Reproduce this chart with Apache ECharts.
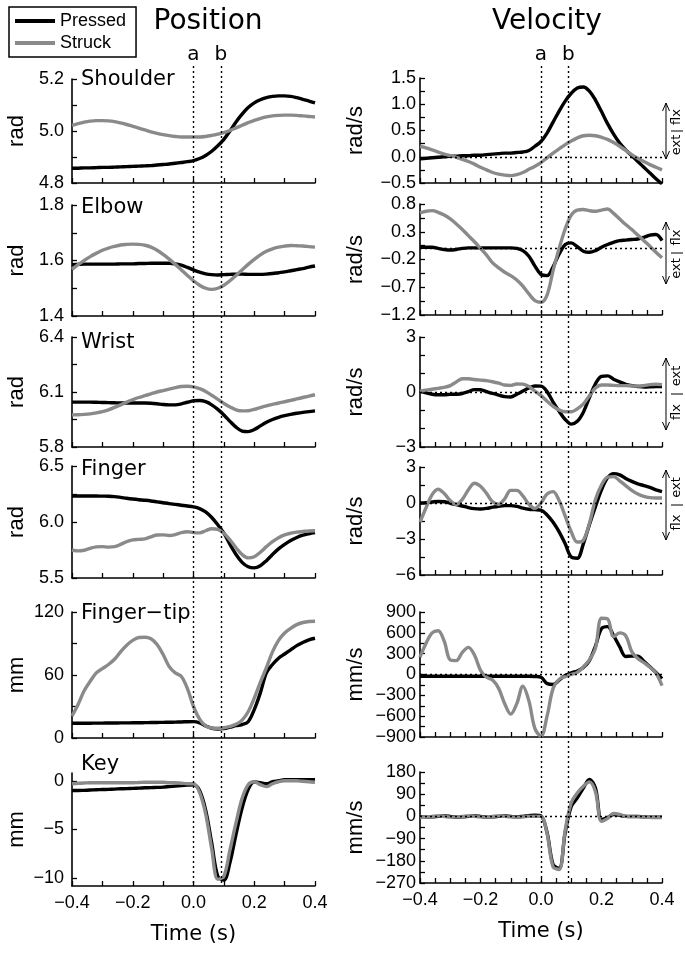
<!DOCTYPE html>
<html><head><meta charset="utf-8">
<script src="https://cdn.jsdelivr.net/npm/echarts@6/dist/echarts.min.js"></script>
<style>html,body{margin:0;padding:0;background:#fff}#c{width:685px;height:969px}</style>
</head><body><div id="c"></div>
<script>
// ---------- DATA ----------
const TIME = [-0.40,-0.38,-0.36,-0.34,-0.32,-0.30,-0.28,-0.26,-0.24,-0.22,-0.20,-0.18,-0.16,-0.14,-0.12,-0.10,-0.08,-0.06,-0.04,-0.02,0.00,0.02,0.04,0.06,0.08,0.10,0.12,0.14,0.16,0.18,0.20,0.22,0.24,0.26,0.28,0.30,0.32,0.34,0.36,0.38,0.40];

const POS_SHOULDER_PRESSED = [4.857,4.857,4.858,4.858,4.859,4.860,4.860,4.861,4.862,4.863,4.864,4.865,4.866,4.867,4.869,4.871,4.873,4.876,4.879,4.882,4.886,4.894,4.906,4.922,4.943,4.968,5.000,5.035,5.065,5.090,5.108,5.120,5.128,5.133,5.135,5.135,5.133,5.128,5.122,5.115,5.108];
const POS_SHOULDER_STRUCK  = [5.022,5.028,5.034,5.038,5.040,5.040,5.039,5.036,5.031,5.025,5.018,5.011,5.004,4.997,4.991,4.986,4.982,4.979,4.977,4.977,4.977,4.977,4.979,4.983,4.988,4.994,5.002,5.012,5.022,5.032,5.041,5.048,5.054,5.058,5.060,5.061,5.061,5.060,5.058,5.056,5.054];
const POS_ELBOW_PRESSED = [1.585,1.586,1.587,1.587,1.587,1.587,1.587,1.587,1.588,1.588,1.588,1.589,1.589,1.590,1.590,1.590,1.590,1.588,1.583,1.575,1.566,1.558,1.552,1.549,1.548,1.549,1.550,1.551,1.551,1.550,1.550,1.550,1.551,1.553,1.556,1.559,1.563,1.567,1.571,1.576,1.580];
const POS_ELBOW_STRUCK  = [1.568,1.585,1.600,1.614,1.626,1.637,1.645,1.651,1.656,1.658,1.659,1.658,1.655,1.648,1.637,1.622,1.605,1.586,1.566,1.546,1.527,1.511,1.500,1.496,1.500,1.511,1.527,1.546,1.566,1.586,1.604,1.620,1.633,1.642,1.648,1.652,1.654,1.653,1.652,1.650,1.648];
const POS_WRIST_PRESSED = [6.045,6.045,6.045,6.045,6.044,6.043,6.042,6.041,6.040,6.040,6.040,6.040,6.040,6.039,6.036,6.032,6.030,6.030,6.035,6.044,6.052,6.054,6.047,6.030,6.005,5.975,5.940,5.908,5.887,5.884,5.895,5.915,5.935,5.950,5.962,5.971,5.978,5.984,5.989,5.993,5.997];
const POS_WRIST_STRUCK  = [5.975,5.976,5.978,5.981,5.986,5.993,6.003,6.016,6.030,6.045,6.058,6.070,6.080,6.090,6.100,6.108,6.116,6.124,6.130,6.131,6.128,6.118,6.103,6.082,6.060,6.038,6.018,6.003,5.997,5.998,6.005,6.015,6.024,6.032,6.040,6.047,6.054,6.062,6.070,6.078,6.085];
const POS_FINGER_PRESSED = [6.232,6.232,6.232,6.232,6.232,6.231,6.230,6.227,6.220,6.212,6.205,6.199,6.194,6.188,6.180,6.172,6.164,6.157,6.150,6.143,6.135,6.120,6.090,6.040,5.975,5.900,5.800,5.710,5.640,5.600,5.590,5.610,5.655,5.710,5.760,5.800,5.835,5.862,5.882,5.895,5.905];
const POS_FINGER_STRUCK  = [5.750,5.742,5.748,5.765,5.778,5.780,5.776,5.780,5.800,5.825,5.840,5.845,5.850,5.868,5.884,5.885,5.880,5.888,5.905,5.913,5.905,5.903,5.922,5.940,5.935,5.900,5.840,5.770,5.710,5.680,5.690,5.730,5.780,5.825,5.860,5.885,5.900,5.910,5.915,5.920,5.922];
const POS_TIP_PRESSED = [14.0,14.0,14.1,14.1,14.2,14.2,14.3,14.3,14.4,14.4,14.5,14.5,14.6,14.7,14.8,14.9,15.0,15.1,15.3,15.5,15.6,14.5,11.5,9.3,8.6,9.0,10.3,11.8,12.8,15.5,27.0,43.0,62.0,70.0,76.0,80.0,84.0,88.0,91.0,93.5,95.0];
const POS_TIP_STRUCK  = [21,32,45,54,62,66,70,75,82,88.4,93,95.7,96,94.5,89,79.5,68,62,58.5,47,30,18,11.5,9.5,9.3,9.8,11,13,17,25,38,53,67,82,93,100,104.5,108,110,111,111.2];
const POS_KEY_PRESSED = [-1.0,-1.0,-0.98,-0.95,-0.92,-0.9,-0.88,-0.85,-0.82,-0.8,-0.78,-0.75,-0.72,-0.7,-0.68,-0.65,-0.6,-0.55,-0.5,-0.45,-0.4,-1.0,-3.0,-6.4,-9.8,-10.2,-8.4,-5.5,-2.8,-0.9,-0.1,-0.2,-0.3,-0.1,0,0.1,0.1,0.1,0.1,0.1,0.1];
const POS_KEY_STRUCK  = [-0.3,-0.25,-0.22,-0.2,-0.2,-0.2,-0.2,-0.2,-0.2,-0.2,-0.2,-0.18,-0.15,-0.15,-0.15,-0.15,-0.2,-0.2,-0.25,-0.3,-0.3,-1.2,-3.4,-7.0,-10.1,-9.8,-7.1,-4.3,-1.8,-0.4,-0.1,-0.4,-0.6,-0.3,-0.1,0,0,0,-0.05,-0.1,-0.15];

const VEL_SHOULDER_PRESSED = [-0.04,-0.03,-0.02,-0.01,0.0,0.01,0.01,0.02,0.02,0.03,0.03,0.04,0.05,0.06,0.07,0.07,0.08,0.09,0.12,0.2,0.29,0.45,0.66,0.87,1.06,1.21,1.31,1.33,1.25,1.08,0.86,0.63,0.43,0.26,0.13,0.02,-0.09,-0.2,-0.31,-0.42,-0.52];
const VEL_SHOULDER_STRUCK  = [0.2,0.17,0.13,0.09,0.05,0.02,-0.01,-0.05,-0.09,-0.14,-0.2,-0.25,-0.3,-0.33,-0.35,-0.36,-0.34,-0.3,-0.24,-0.18,-0.11,-0.02,0.07,0.15,0.23,0.3,0.36,0.4,0.41,0.4,0.37,0.33,0.27,0.2,0.12,0.04,-0.03,-0.09,-0.15,-0.2,-0.25];
const VEL_ELBOW_PRESSED = [0.02,0.02,0.02,0.0,-0.02,-0.03,-0.02,0.0,0.01,0.01,0.01,0.01,0.01,0.01,0.01,0.01,0.0,-0.04,-0.14,-0.32,-0.47,-0.49,-0.33,-0.1,0.07,0.1,0.03,-0.05,-0.07,-0.04,0.02,0.07,0.11,0.14,0.15,0.16,0.17,0.2,0.24,0.25,0.14];
const VEL_ELBOW_STRUCK  = [0.64,0.67,0.68,0.65,0.6,0.53,0.44,0.34,0.23,0.12,0.0,-0.12,-0.26,-0.35,-0.43,-0.49,-0.57,-0.68,-0.82,-0.94,-0.97,-0.84,-0.4,0.0,0.35,0.6,0.69,0.7,0.68,0.67,0.69,0.71,0.63,0.53,0.43,0.34,0.24,0.14,0.04,-0.07,-0.17];
const VEL_WRIST_PRESSED = [0.05,-0.05,-0.12,-0.15,-0.15,-0.13,-0.12,-0.08,0.02,0.13,0.12,0.02,-0.08,-0.17,-0.25,-0.27,-0.12,0.05,0.22,0.33,0.32,0.02,-0.55,-1.05,-1.5,-1.75,-1.6,-1.1,-0.3,0.45,0.85,0.88,0.7,0.55,0.42,0.35,0.3,0.27,0.28,0.3,0.3];
const VEL_WRIST_STRUCK  = [0.05,0.1,0.15,0.2,0.25,0.35,0.55,0.72,0.72,0.68,0.65,0.62,0.56,0.48,0.38,0.36,0.44,0.43,0.3,0.05,-0.2,-0.5,-0.78,-0.98,-1.08,-1.08,-0.92,-0.65,-0.2,0.22,0.38,0.38,0.36,0.35,0.35,0.33,0.32,0.35,0.4,0.42,0.4];
const VEL_FINGER_PRESSED = [0.0,0.02,0.08,0.13,0.1,-0.02,-0.14,-0.25,-0.38,-0.47,-0.5,-0.45,-0.35,-0.27,-0.22,-0.22,-0.28,-0.42,-0.52,-0.55,-0.6,-1.0,-1.6,-2.4,-3.4,-4.5,-4.6,-3.4,-1.8,-0.3,1.1,2.1,2.45,2.35,2.05,1.8,1.6,1.45,1.3,1.1,0.95];
const VEL_FINGER_STRUCK  = [-1.6,-0.4,0.7,1.15,0.8,0.2,-0.12,0.3,1.1,1.65,1.4,0.8,0.1,-0.1,0.35,1.05,1.05,0.6,-0.1,-0.45,0.0,0.75,0.95,0.2,-1.1,-2.4,-3.25,-3.1,-1.7,0.3,1.5,2.15,2.2,1.85,1.45,1.05,0.75,0.55,0.45,0.42,0.42];
const VEL_TIP_PRESSED = [-25,-25,-25,-25,-25,-25,-25,-25,-25,-25,-25,-25,-25,-25,-25,-25,-25,-25,-25,-28,-40,-130,-145,-80,-15,25,50,100,200,410,660,690,560,400,260,265,265,190,110,30,-60];
const VEL_TIP_STRUCK  = [250,450,600,630,480,210,200,320,390,280,60,-40,-80,-200,-420,-570,-420,-170,-380,-780,-890,-600,-200,-70,-30,0,30,110,210,380,810,800,545,600,560,330,230,170,104,20,-160];
const VEL_KEY_PRESSED = [-2,-3,-2,0,2,0,-3,-2,0,2,0,-3,-2,0,2,0,-2,0,3,5,2,-65,-195,-210,-65,40,75,115,150,115,-12,-5,8,5,0,0,0,-2,-3,-3,-3];
const VEL_KEY_STRUCK  = [-5,-3,0,2,0,-3,-2,0,2,0,-2,-3,0,2,0,-2,-3,-2,0,0,0,-70,-205,-215,-55,55,95,122,140,100,-20,-8,12,8,0,-2,-2,-3,-4,-5,-5];

const SERIES_NAMES = ['Pressed', 'Struck'];
const PANEL_NAMES = ['Shoulder', 'Elbow', 'Wrist', 'Finger', 'Finger\u2212tip', 'Key'];
const POS_UNITS = ['rad', 'rad', 'rad', 'rad', 'mm', 'mm'];
const VEL_UNITS = ['rad/s', 'rad/s', 'rad/s', 'rad/s', 'mm/s', 'mm/s'];

const X_LABELS = [-0.4, -0.2, 0, 0.2, 0.4];
const X_TICKS_POS = [-0.4, -0.3, -0.2, -0.1, 0, 0.1, 0.2, 0.3, 0.4];
const X_TICKS_VEL = [-0.4, -0.35, -0.3, -0.25, -0.2, -0.15, -0.1, -0.05, 0, 0.05, 0.1, 0.15, 0.2, 0.25, 0.3, 0.35, 0.4];
const MARK_TIMES = [0, 0.09];
const MARK_NAMES = ['a', 'b'];

const POS_Y_RANGE = [[4.8, 5.2], [1.4, 1.8], [5.8, 6.4], [5.5, 6.5], [0, 120], [-10.8, 0.8]];
const POS_Y_LABELS = [[4.8, 5.0, 5.2], [1.4, 1.6, 1.8], [5.8, 6.1, 6.4], [5.5, 6.0, 6.5], [0, 60, 120], [-10, -5, 0]];
const POS_Y_TICKS = [[4.8, 4.9, 5.0, 5.1, 5.2], [1.4, 1.5, 1.6, 1.7, 1.8], [5.8, 5.95, 6.1, 6.25, 6.4], [5.5, 5.75, 6.0, 6.25, 6.5], [0, 30, 60, 90, 120], [-10, -5, 0]];
const POS_Y_DEC = [1, 1, 1, 1, 0, 0];
const VEL_Y_RANGE = [[-0.5, 1.5], [-1.2, 0.8], [-3, 3], [-6, 3], [-900, 900], [-270, 180]];
const VEL_Y_LABELS = [[-0.5, 0, 0.5, 1.0, 1.5], [-1.2, -0.7, -0.2, 0.3, 0.8], [-3, 0, 3], [-6, -3, 0, 3], [-900, -600, -300, 0, 300, 600, 900], [-270, -180, -90, 0, 90, 180]];
const VEL_Y_TICKS = [[-0.5, -0.25, 0, 0.25, 0.5, 0.75, 1.0, 1.25, 1.5], [-1.2, -0.95, -0.7, -0.45, -0.2, 0.05, 0.3, 0.55, 0.8], [-3, -2, -1, 0, 1, 2, 3], [-6, -4.5, -3, -1.5, 0, 1.5, 3], [-900, -750, -600, -450, -300, -150, 0, 150, 300, 450, 600, 750, 900], [-270, -225, -180, -135, -90, -45, 0, 45, 90, 135, 180]];
const VEL_Y_DEC = [1, 1, 0, 0, 0, 0];
const ARROW_TEXT = [['flx', 'ext'], ['flx', 'ext'], ['ext', 'flx'], ['ext', 'flx']];

const POS_DATA = [
  [POS_SHOULDER_PRESSED, POS_SHOULDER_STRUCK], [POS_ELBOW_PRESSED, POS_ELBOW_STRUCK],
  [POS_WRIST_PRESSED, POS_WRIST_STRUCK], [POS_FINGER_PRESSED, POS_FINGER_STRUCK],
  [POS_TIP_PRESSED, POS_TIP_STRUCK], [POS_KEY_PRESSED, POS_KEY_STRUCK]];
const VEL_DATA = [
  [VEL_SHOULDER_PRESSED, VEL_SHOULDER_STRUCK], [VEL_ELBOW_PRESSED, VEL_ELBOW_STRUCK],
  [VEL_WRIST_PRESSED, VEL_WRIST_STRUCK], [VEL_FINGER_PRESSED, VEL_FINGER_STRUCK],
  [VEL_TIP_PRESSED, VEL_TIP_STRUCK], [VEL_KEY_PRESSED, VEL_KEY_STRUCK]];

// ---------- LAYOUT / STYLE ----------
const COLORS = ['#000000', '#8a8a8a'];
const NUM_FONT = 'Liberation Sans';
const TXT_FONT = 'DejaVu Sans';
const L_BOX = [[79, 183], [205, 316], [337, 447], [466, 578], [612, 738], [773, 886]];
const R_BOX = [[78, 183], [204, 315], [337, 447], [467, 575], [612, 737], [772, 883]];
const L_LEFT = 72, L_WIDTH = 243, R_LEFT = 420, R_WIDTH = 242;
const TITLE_Y = [80, 208, 343, 470, 614, 765];
const ARROW_Y = [[131, 28], [253, 31], [394, 36], [505, 35]];

function fmt(dec) {
  return function (v) {
    const s = Math.abs(v).toFixed(dec);
    return (v < -1e-9 ? '\u2212' : '') + s;
  };
}
const axisLineStyle = { color: '#000', width: 1.6 };

const grid = [], xAxis = [], yAxis = [], series = [];
function addPanel(col, i) {
  const isPos = col === 0;
  const box = isPos ? L_BOX[i] : R_BOX[i];
  const gi = grid.length;
  grid.push({ left: isPos ? L_LEFT : R_LEFT, width: isPos ? L_WIDTH : R_WIDTH, top: box[0], height: box[1] - box[0] });
  const last = i === 5;
  xAxis.push({
    gridIndex: gi, type: 'value', min: -0.4, max: 0.4,
    axisLine: { show: true, onZero: false, lineStyle: axisLineStyle },
    axisTick: { show: true, inside: true, length: 5, customValues: isPos ? X_TICKS_POS : X_TICKS_VEL, lineStyle: { color: '#000', width: 1.3 } },
    axisLabel: { show: last, customValues: X_LABELS, formatter: fmt(1), margin: 8, fontSize: 18, fontFamily: NUM_FONT, color: '#000' },
    splitLine: { show: false },
    name: last ? 'Time (s)' : '', nameLocation: 'middle', nameGap: 38,
    nameTextStyle: { fontSize: 21, fontFamily: TXT_FONT, color: '#000' }
  });
  const rng = isPos ? POS_Y_RANGE[i] : VEL_Y_RANGE[i];
  const dec = isPos ? POS_Y_DEC[i] : VEL_Y_DEC[i];
  yAxis.push({
    gridIndex: gi, type: 'value', min: rng[0], max: rng[1],
    axisLine: { show: true, onZero: false, lineStyle: axisLineStyle },
    axisTick: { show: true, inside: true, length: 5, customValues: isPos ? POS_Y_TICKS[i] : VEL_Y_TICKS[i], lineStyle: { color: '#000', width: 1.3 } },
    axisLabel: { show: true, customValues: isPos ? POS_Y_LABELS[i] : VEL_Y_LABELS[i], formatter: fmt(dec), margin: isPos ? 8 : 4, fontSize: 18, fontFamily: NUM_FONT, color: '#000' },
    splitLine: { show: false },
    name: isPos ? POS_UNITS[i] : VEL_UNITS[i], nameLocation: 'middle', nameGap: isPos ? 44 : 53,
    nameTextStyle: { fontSize: 22, fontFamily: NUM_FONT, color: '#000' }
  });
  const d = isPos ? POS_DATA[i] : VEL_DATA[i];
  for (let s = 0; s < 2; s++) {
    const ser = {
      type: 'line', name: SERIES_NAMES[s], xAxisIndex: gi, yAxisIndex: gi,
      data: TIME.map((t, k) => [t, d[s][k]]),
      smooth: 0.35, showSymbol: false, symbol: 'none',
      lineStyle: { color: COLORS[s], width: 3.4 }, itemStyle: { color: COLORS[s] },
      z: 3 + s, silent: true
    };
    if (!isPos && s === 0) {
      ser.markLine = {
        silent: true, symbol: ['none', 'none'], animation: false,
        label: { show: false },
        lineStyle: { color: '#000', type: [2, 3], width: 1.3 },
        data: [{ yAxis: 0 }]
      };
    }
    series.push(ser);
  }
}
for (let i = 0; i < 6; i++) addPanel(0, i);
for (let i = 0; i < 6; i++) addPanel(1, i);

// overlay grids for the a / b event lines
function addOverlay(left, width, top, bottom) {
  const gi = grid.length;
  grid.push({ left: left, width: width, top: top, height: bottom - top });
  xAxis.push({ gridIndex: gi, type: 'value', min: -0.4, max: 0.4, show: false });
  yAxis.push({ gridIndex: gi, type: 'value', min: 0, max: 1, show: false });
  series.push({
    type: 'line', xAxisIndex: gi, yAxisIndex: gi, data: [], z: 1, silent: true,
    markLine: {
      silent: true, symbol: ['none', 'none'], animation: false,
      lineStyle: { color: '#000', type: [2, 3], width: 1.4 },
      label: { show: true, position: 'start', formatter: '{b}', fontSize: 20, fontFamily: TXT_FONT, color: '#000', distance: 1 },
      data: MARK_TIMES.map((t, k) => [{ name: MARK_NAMES[k], coord: [t, 1] }, { coord: [t, 0] }])
    }
  });
}
addOverlay(L_LEFT, L_WIDTH, 66, 886);
addOverlay(R_LEFT, R_WIDTH, 66, 883);

// ---------- GRAPHIC ----------
const graphic = [
  { type: 'text', x: 208, y: 22, style: { text: 'Position', fontSize: 28, fontFamily: TXT_FONT, fill: '#000', align: 'center', verticalAlign: 'middle' } },
  { type: 'text', x: 547, y: 22, style: { text: 'Velocity', fontSize: 28, fontFamily: TXT_FONT, fill: '#000', align: 'center', verticalAlign: 'middle' } }
];
PANEL_NAMES.forEach((n, i) => {
  graphic.push({ type: 'text', x: 81, y: TITLE_Y[i], style: { text: n, fontSize: 21, fontFamily: TXT_FONT, fill: '#000', align: 'left', verticalAlign: 'middle' } });
});
ARROW_TEXT.forEach((txt, i) => {
  const yc = ARROW_Y[i][0], h = ARROW_Y[i][1], ax = 666, tx = 677;
  const ls = { stroke: '#000', lineWidth: 1, fill: null };
  graphic.push({ type: 'line', shape: { x1: ax, y1: yc, x2: ax, y2: yc - h }, style: ls });
  graphic.push({ type: 'polyline', shape: { points: [[ax - 3.5, yc - h + 8], [ax, yc - h], [ax + 3.5, yc - h + 8]] }, style: ls });
  graphic.push({ type: 'line', shape: { x1: ax, y1: yc, x2: ax, y2: yc + h }, style: ls });
  graphic.push({ type: 'polyline', shape: { points: [[ax - 3.5, yc + h - 8], [ax, yc + h], [ax + 3.5, yc + h - 8]] }, style: ls });
  graphic.push({ type: 'line', shape: { x1: 671, y1: yc, x2: 683, y2: yc }, style: ls });
  graphic.push({ type: 'text', x: tx, y: yc - h / 2, rotation: Math.PI / 2, style: { text: txt[0], fontSize: 13, fontFamily: TXT_FONT, fill: '#000', align: 'center', verticalAlign: 'middle' } });
  graphic.push({ type: 'text', x: tx, y: yc + h / 2, rotation: Math.PI / 2, style: { text: txt[1], fontSize: 13, fontFamily: TXT_FONT, fill: '#000', align: 'center', verticalAlign: 'middle' } });
});

const option = {
  animation: false,
  backgroundColor: '#fff',
  legend: {
    data: SERIES_NAMES, left: 9, top: 7, orient: 'vertical',
    padding: [5, 10, 5, 6], itemGap: 4, itemWidth: 40, itemHeight: 4, icon: 'rect',
    borderColor: '#000', borderWidth: 1.5,
    textStyle: { fontSize: 18, fontFamily: NUM_FONT, color: '#000' }
  },
  grid: grid, xAxis: xAxis, yAxis: yAxis, series: series, graphic: graphic
};
const chart = echarts.init(document.getElementById('c'), null, { renderer: 'canvas' });
chart.setOption(option);
</script>
</body></html>
